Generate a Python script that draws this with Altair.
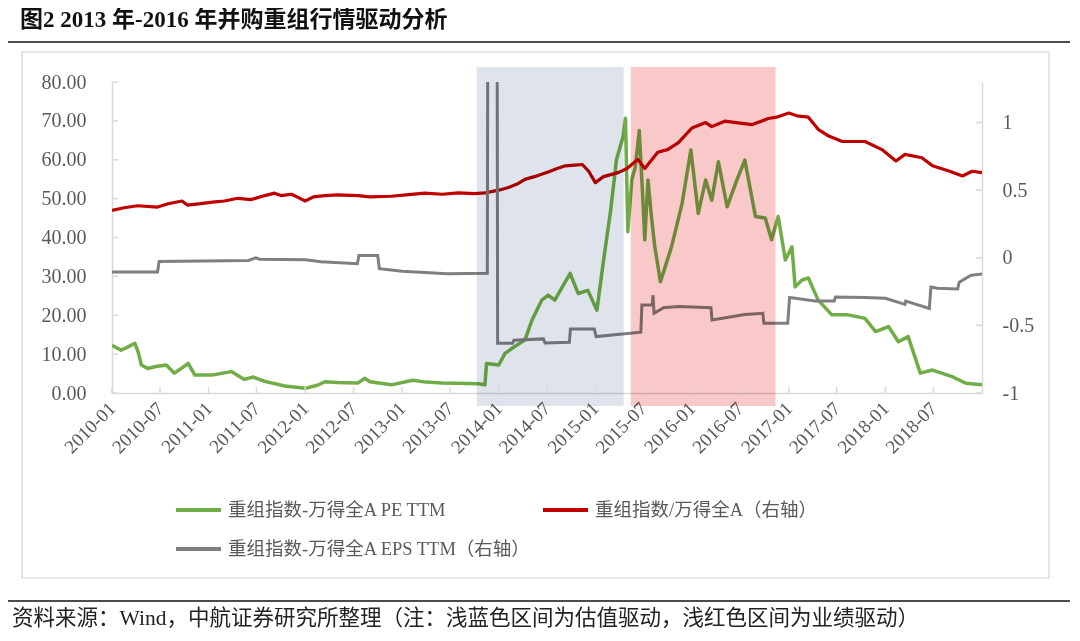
import altair as alt
import pandas as pd

# ---------------- data ----------------
pe_dates = ["2010-01-01", "2010-02-04", "2010-03-01", "2010-03-28", "2010-04-10", "2010-04-22", "2010-05-16",
            "2010-06-16", "2010-07-25", "2010-08-25", "2010-10-16", "2010-11-10", "2011-01-13", "2011-03-28",
            "2011-05-16", "2011-06-19", "2011-08-01", "2011-10-16", "2012-01-01", "2012-02-16", "2012-03-16",
            "2012-05-01", "2012-07-19", "2012-08-13", "2012-09-01", "2012-11-22", "2013-02-10", "2013-04-01",
            "2013-06-01", "2013-10-16", "2013-11-10", "2013-11-16", "2014-01-01", "2014-01-25", "2014-03-01",
            "2014-04-10", "2014-05-07", "2014-06-13", "2014-07-07", "2014-08-01", "2014-08-16", "2014-09-28",
            "2014-10-28", "2014-12-04", "2015-01-07", "2015-02-01", "2015-02-28", "2015-03-22", "2015-04-16",
            "2015-04-25", "2015-05-04", "2015-05-19", "2015-06-01", "2015-06-16", "2015-06-28", "2015-07-07",
            "2015-07-19", "2015-08-01", "2015-08-13", "2015-09-04", "2015-10-16", "2015-11-25", "2015-12-28",
            "2016-01-25", "2016-02-22", "2016-03-16", "2016-04-10", "2016-05-13", "2016-06-19", "2016-07-19",
            "2016-08-28", "2016-10-04", "2016-10-28", "2016-11-22", "2016-12-19", "2017-01-13", "2017-01-25",
            "2017-02-19", "2017-03-16", "2017-04-22", "2017-06-13", "2017-08-13", "2017-10-16", "2017-11-25",
            "2018-01-13", "2018-02-19", "2018-03-28", "2018-05-13", "2018-06-28", "2018-09-10", "2018-11-01",
            "2019-01-01"]
pe_values = [12.3, 11.0, 11.8, 12.8, 10.5, 7.2, 6.3,
             6.8, 7.2, 5.1, 7.6, 4.6, 4.6, 5.5,
             3.5, 4.1, 3.0, 1.8, 1.2, 2.0, 2.9,
             2.7, 2.6, 3.8, 2.9, 2.1, 3.3, 2.8,
             2.6, 2.4, 2.1, 7.6, 7.2, 10.2, 11.9,
             13.6, 18.8, 23.9, 25.2, 23.9, 25.7, 30.8,
             25.6, 26.4, 21.3, 34.0, 47.0, 60.0, 66.0,
             70.7, 41.5, 55.0, 58.0, 67.5, 52.0, 39.4,
             54.8, 45.4, 38.0, 28.6, 37.6, 48.8, 62.5,
             46.2, 54.8, 49.6, 59.5, 47.9, 54.8, 59.9,
             45.4, 45.0, 39.4, 45.4, 34.2, 37.6, 27.3,
             29.0, 29.6, 23.9, 20.1, 20.1, 19.2, 15.8,
             17.1, 13.2, 14.5, 5.1, 5.9, 4.2, 2.5,
             2.1]

ratio_dates = ["2010-01-01", "2010-02-16", "2010-04-07", "2010-06-22", "2010-08-01", "2010-09-22", "2010-10-13",
               "2010-12-01", "2011-01-25", "2011-03-01", "2011-04-22", "2011-06-10", "2011-08-01", "2011-09-07",
               "2011-10-01", "2011-11-10", "2011-12-01", "2012-01-01", "2012-02-01", "2012-03-16", "2012-05-01",
               "2012-07-19", "2012-09-01", "2012-11-22", "2013-01-16", "2013-03-28", "2013-06-01", "2013-08-01",
               "2013-10-01", "2013-11-10", "2014-01-01", "2014-02-07", "2014-03-16", "2014-04-10", "2014-05-16",
               "2014-07-07", "2014-08-10", "2014-09-10", "2014-10-16", "2014-11-13", "2014-12-07", "2015-01-01",
               "2015-02-01", "2015-03-28", "2015-05-01", "2015-06-10", "2015-07-07", "2015-08-25", "2015-10-01",
               "2015-11-10", "2016-01-01", "2016-02-22", "2016-03-16", "2016-05-04", "2016-06-16", "2016-08-16",
               "2016-10-16", "2016-11-16", "2017-01-01", "2017-02-01", "2017-03-16", "2017-04-22", "2017-06-01",
               "2017-07-22", "2017-10-16", "2017-12-19", "2018-02-10", "2018-03-16", "2018-05-19", "2018-06-28",
               "2018-09-01", "2018-10-19", "2018-11-25", "2019-01-01"]
ratio_values = [0.35, 0.37, 0.385, 0.375, 0.40, 0.42, 0.39,
                0.40, 0.414, 0.42, 0.44, 0.43, 0.46, 0.478,
                0.46, 0.47, 0.45, 0.42, 0.45, 0.46, 0.465,
                0.46, 0.45, 0.455, 0.465, 0.478, 0.47, 0.48,
                0.475, 0.48, 0.50, 0.52, 0.55, 0.58, 0.60,
                0.635, 0.66, 0.68, 0.685, 0.69, 0.64, 0.556,
                0.60, 0.63, 0.66, 0.728, 0.66, 0.78, 0.80,
                0.85, 0.96, 1.0, 0.97, 1.01, 1.0, 0.985,
                1.03, 1.04, 1.07, 1.05, 1.04, 0.95, 0.90,
                0.86, 0.86, 0.80, 0.716, 0.765, 0.74, 0.68,
                0.64, 0.605, 0.64, 0.63]

eps_dates = ["2010-01-01", "2010-06-22", "2010-06-28", "2011-06-01", "2011-06-28", "2011-07-13", "2012-01-01",
             "2012-03-01", "2012-07-16", "2012-07-22", "2012-10-01", "2012-10-07", "2013-01-01", "2013-06-22",
             "2013-11-19", "2013-11-22", "2013-12-25", "2013-12-28", "2014-02-22", "2014-02-28", "2014-06-19",
             "2014-06-25", "2014-09-25", "2014-09-29", "2014-12-28", "2015-01-04", "2015-05-04", "2015-06-22",
             "2015-06-26", "2015-08-04", "2015-08-07", "2015-08-11", "2015-09-16", "2015-11-10", "2016-03-13",
             "2016-03-17", "2016-07-19", "2016-09-25", "2016-09-29", "2016-12-28", "2017-01-04", "2017-04-10",
             "2017-06-22", "2017-06-26", "2017-10-16", "2018-01-01", "2018-03-16", "2018-03-19", "2018-06-16",
             "2018-06-22", "2018-07-16", "2018-10-01", "2018-10-07", "2018-11-19", "2019-01-01"]
eps_values = [-0.105, -0.105, -0.027, -0.02, 0.0, -0.01, -0.015,
              -0.03, -0.044, 0.017, 0.017, -0.081, -0.1, -0.118,
              -0.115, 3.0, 3.0, -0.632, -0.632, -0.61, -0.60,
              -0.63, -0.625, -0.527, -0.527, -0.583, -0.56, -0.55,
              -0.35, -0.35, -0.277, -0.41, -0.37, -0.36, -0.37,
              -0.46, -0.42, -0.41, -0.485, -0.485, -0.294, -0.32,
              -0.32, -0.29, -0.294, -0.30, -0.345, -0.32, -0.375,
              -0.216, -0.225, -0.23, -0.18, -0.13, -0.12]

x_tick_labels = ["2010-01", "2010-07", "2011-01", "2011-07", "2012-01", "2012-07", "2013-01", "2013-07",
                 "2014-01", "2014-07", "2015-01", "2015-07", "2016-01", "2016-07", "2017-01", "2017-07",
                 "2018-01", "2018-07"]
left_ticks = [0, 10, 20, 30, 40, 50, 60, 70, 80]
right_ticks = [-1, -0.5, 0, 0.5, 1]

period_names = ["估值驱动", "业绩驱动"]
period_start = ["2013-10-10", "2015-05-15"]
period_end = ["2015-04-18", "2016-11-12"]

series_names = ["重组指数-万得全A PE TTM", "重组指数/万得全A（右轴）", "重组指数-万得全A EPS TTM（右轴）"]
series_colors = ["#70ad47", "#c00000", "#7f7f7f"]

title_text = "图2  2013 年-2016 年并购重组行情驱动分析"
source_text = "资料来源：Wind，中航证券研究所整理（注：浅蓝色区间为估值驱动，浅红色区间为业绩驱动）"

# ---------------- tables ----------------
assert len(pe_dates) == len(pe_values)
assert len(ratio_dates) == len(ratio_values)
assert len(eps_dates) == len(eps_values)

pe_df = pd.DataFrame({"date": pd.to_datetime(pe_dates), "value": pe_values})
ratio_df = pd.DataFrame({"date": pd.to_datetime(ratio_dates), "value": ratio_values})
eps_df = pd.DataFrame({"date": pd.to_datetime(eps_dates), "value": eps_values})
xt_df = pd.DataFrame({"date": pd.to_datetime([s + "-01" for s in x_tick_labels])})
lt_df = pd.DataFrame({"v": left_ticks})
rt_df = pd.DataFrame({"v": right_ticks})
per_df = pd.DataFrame({"name": period_names, "start": pd.to_datetime(period_start),
                       "end": pd.to_datetime(period_end)})

W, H = 870, 311
SERIF = "Liberation Serif, Noto Sans CJK SC"
AXIS_GRAY = "#d9d9d9"
LABEL_GRAY = "#595959"

x_scale = alt.Scale(domain=[alt.DateTime(year=2010, month=1, date=1),
                            alt.DateTime(year=2019, month=1, date=1)])
x_axis = alt.Axis(values=[alt.DateTime(year=int(s[:4]), month=int(s[5:]), date=1) for s in x_tick_labels],
                  format="%Y-%m", labelAngle=-45, labelAlign="right", labelBaseline="middle",
                  labelPadding=12, ticks=False, labelFlush=False, labelOverlap=False,
                  domainColor=AXIS_GRAY, domainWidth=1.5, grid=False, title=None,
                  labelFont=SERIF, labelFontSize=19, labelColor=LABEL_GRAY)
left_scale = alt.Scale(domain=[0, 80], nice=False, zero=False)
left_axis = alt.Axis(values=left_ticks, format=".2f", ticks=False, labelPadding=26,
                     domainColor=AXIS_GRAY, domainWidth=1.5, grid=False, title=None,
                     labelFont=SERIF, labelFontSize=20, labelColor=LABEL_GRAY)
right_scale = alt.Scale(domain=[-1, 1.3], nice=False, zero=False)
right_axis = alt.Axis(orient="right", values=right_ticks, labelExpr="'' + datum.value", ticks=False,
                      labelPadding=20, domainColor=AXIS_GRAY, domainWidth=1.5, grid=False, title=None,
                      labelFont=SERIF, labelFontSize=20, labelColor=LABEL_GRAY)


def X():
    return alt.X("date:T", scale=x_scale, axis=x_axis, title=None)


green = alt.Chart(pe_df).mark_line(color=series_colors[0], strokeWidth=3.5, clip=True,
                                   strokeJoin="round").encode(
    x=X(), y=alt.Y("value:Q", scale=left_scale, axis=left_axis, title=None))
left_tk = alt.Chart(lt_df).mark_rule(color=AXIS_GRAY, strokeWidth=1.5).encode(
    y=alt.Y("v:Q", scale=left_scale, axis=left_axis, title=None),
    x=alt.value(0), x2=alt.value(6))
left_group = alt.layer(green, left_tk)

red = alt.Chart(ratio_df).mark_line(color=series_colors[1], strokeWidth=3.2, clip=True,
                                    strokeJoin="round").encode(
    x=X(), y=alt.Y("value:Q", scale=right_scale, axis=right_axis, title=None))
gray = alt.Chart(eps_df).mark_line(color=series_colors[2], strokeWidth=3, clip=True,
                                   strokeJoin="miter").encode(
    x=X(), y=alt.Y("value:Q", scale=right_scale, axis=right_axis, title=None))
right_tk = alt.Chart(rt_df).mark_rule(color=AXIS_GRAY, strokeWidth=1.5).encode(
    y=alt.Y("v:Q", scale=right_scale, axis=right_axis, title=None),
    x=alt.value(W - 6), x2=alt.value(W))
right_group = alt.layer(red, gray, right_tk)

shade = alt.Chart(per_df).mark_rect(blend="multiply").encode(
    x=alt.X("start:T", scale=x_scale, axis=x_axis, title=None), x2=alt.X2("end:T"),
    y=alt.value(-15), y2=alt.value(324),
    color=alt.Color("name:N", scale=alt.Scale(domain=period_names, range=["#dfe4ec", "#f9c9c9"]),
                    legend=None))

x_tk = alt.Chart(xt_df).mark_rule(color=AXIS_GRAY, strokeWidth=1.5).encode(
    x=X(), y=alt.value(H), y2=alt.value(H - 6))

one = pd.DataFrame({"k": [0]})

box = alt.Chart(one).mark_rect(fillOpacity=0, stroke="#d4d4d4", strokeWidth=1.2).encode(
    x=alt.value(-90), x2=alt.value(937), y=alt.value(-30), y2=alt.value(496))

title = alt.Chart(pd.DataFrame({"t": [title_text]})).mark_text(
    align="left", baseline="middle", font=SERIF, fontSize=23, fontWeight="bold", color="#111111").encode(
    x=alt.value(-92), y=alt.value(-62), text="t:N")
title_rule = alt.Chart(one).mark_rule(color="#111111", strokeWidth=1.5).encode(
    x=alt.value(-104), x2=alt.value(960), y=alt.value(-40))

source = alt.Chart(pd.DataFrame({"t": [source_text]})).mark_text(
    align="left", baseline="middle", font=SERIF, fontSize=21.5, color="#222222").encode(
    x=alt.value(-100), y=alt.value(537), text="t:N")
source_rule = alt.Chart(one).mark_rule(color="#111111", strokeWidth=1.5).encode(
    x=alt.value(-104), x2=alt.value(960), y=alt.value(519))

legend_layers = []
legend_pos = [(64, 428), (431, 428), (64, 467)]
for name, colr, (lx, ly) in zip(series_names, series_colors, legend_pos):
    legend_layers.append(alt.Chart(one).mark_rule(color=colr, strokeWidth=4).encode(
        x=alt.value(lx), x2=alt.value(lx + 45), y=alt.value(ly)))
    legend_layers.append(alt.Chart(pd.DataFrame({"t": [name]})).mark_text(
        align="left", baseline="middle", font=SERIF, fontSize=18.5, color=LABEL_GRAY).encode(
        x=alt.value(lx + 52), y=alt.value(ly), text="t:N"))

chart = alt.layer(
    left_group, right_group, shade, x_tk, box, title, title_rule, source, source_rule, *legend_layers
).resolve_scale(y="independent").properties(
    width=W, height=H,
    autosize=alt.AutoSizeParams(type="none"),
    padding={"left": 104, "top": 74, "right": 88, "bottom": 238},
    background="white",
).configure_view(stroke=None)

chart.save("out.html", embed_options={"renderer": "svg", "actions": False})
